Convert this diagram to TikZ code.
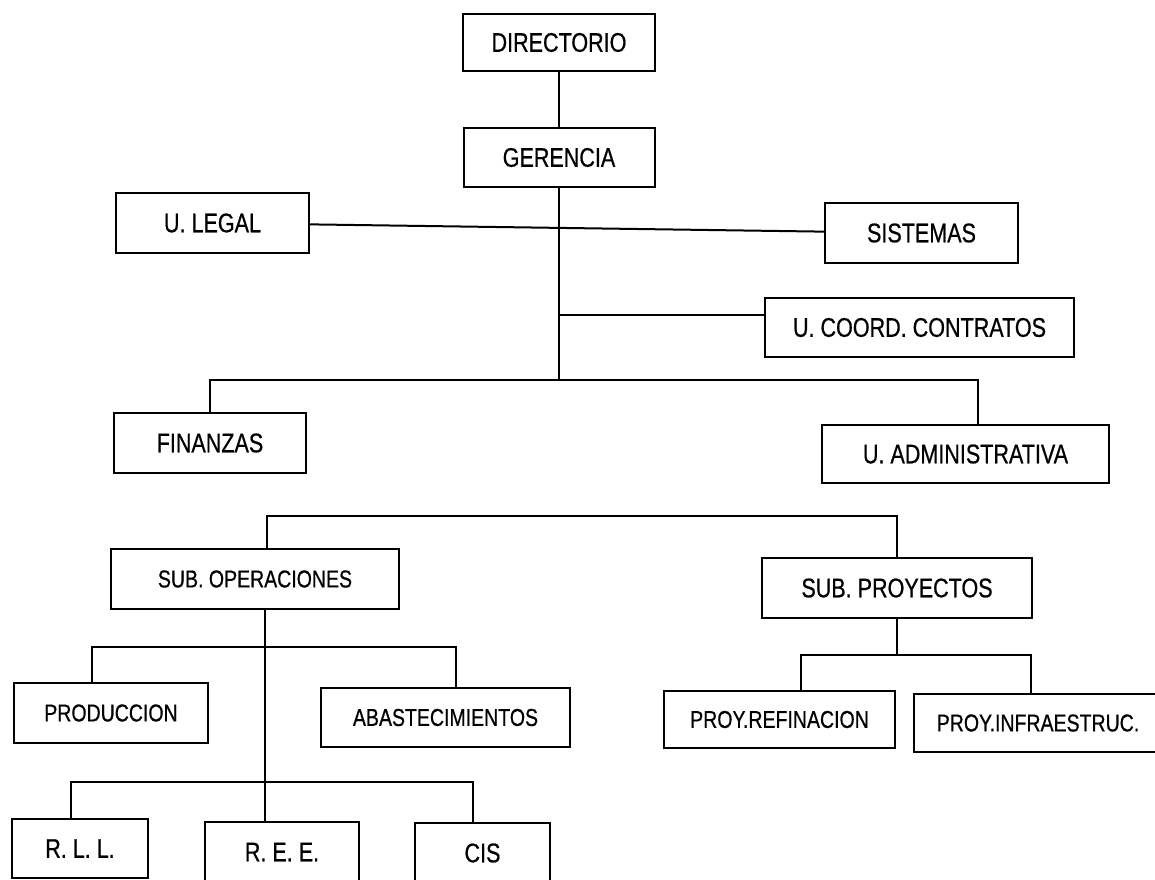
\documentclass[tikz,border=0pt]{standalone}
\usepackage{fontspec}
\setmainfont{Liberation Sans}[FakeStretch=0.8,FakeBold=0.6]
\usepackage{tikz}

\begin{document}
\begin{tikzpicture}[x=0.75pt,y=0.75pt,yscale=-1,xscale=1,
  unit/.style={draw, line width=1.5pt, inner sep=0pt, minimum height=45pt, font=\fontsize{20.2}{24}\selectfont},
  subunit/.style={unit, font=\fontsize{18.3}{22}\selectfont},
  every path/.style={line width=1.5pt}]
\useasboundingbox (0,0) rectangle (1155,879);
%Shape: Rectangle [DIRECTORIO, GERENCIA]
\node [unit, minimum width=144pt, minimum height=42.75pt] (dir) at (559,42.5) {DIRECTORIO};
\node [unit, minimum width=143.25pt, minimum height=44.25pt] (ger) at (559,157.5) {GERENCIA};
%Shape: Rectangle [staff units]
\node [unit, minimum width=144.75pt] (legal) at (212.5,223) {U. LEGAL};
\node [unit, minimum width=144.75pt] (sist) at (921.5,233) {SISTEMAS};
\node [unit, minimum width=231.75pt, minimum height=44.25pt] (coord) at (919.5,327.5) {U. COORD. CONTRATOS};
\node [unit, minimum width=144pt] (fin) at (210,443) {FINANZAS};
\node [unit, minimum width=215.25pt, minimum height=43.5pt] (adm) at (965.5,454) {U. ADMINISTRATIVA};
%Shape: Rectangle [sub gerencias]
\node [subunit, minimum width=216pt] (subop) at (255,579) {SUB. OPERACIONES};
\node [unit, minimum width=202.5pt] (subpr) at (897,588) {SUB. PROYECTOS};
\node [subunit, minimum width=145.5pt] (prod) at (111,713) {PRODUCCION};
\node [subunit, minimum width=186.75pt, minimum height=44.25pt] (abast) at (445.5,717.5) {ABASTECIMIENTOS};
\node [subunit, minimum width=173.25pt, minimum height=42.75pt] (pref) at (779.5,719.5) {PROY.REFINACION};
\node [subunit, minimum width=186pt, minimum height=43.5pt] (pinf) at (1038,723) {PROY.INFRAESTRUC.};
\node [unit, minimum width=102pt, minimum height=44.25pt] (rll) at (80,848.5) {R. L. L.};
\node [unit, minimum width=115.5pt] (ree) at (282,852) {R. E. E.};
\node [unit, minimum width=101.25pt] (cis) at (482.5,853) {CIS};
%Junctions
\coordinate (jcoord) at (559,315);
\coordinate (jfin) at (559,380);
\coordinate (jadm) at (978,380);
\coordinate (jsub) at (267,516);
\coordinate (jop) at (265,647);
\coordinate (lprod) at (92,647);
\coordinate (labast) at (456,647);
\coordinate (lrll) at (71,782);
\coordinate (lcis) at (473,782);
\coordinate (jpr) at (897,655);
\coordinate (lpref) at (801,655);
\coordinate (lpinf) at (1031,655);
%Straight Lines
\draw (dir) -- (ger);
\draw (ger.south) -- (jfin);
\draw (legal) -- (sist);
\draw (jcoord) -- (jcoord -| coord.west);
\draw (fin.north) |- (jadm) -- (jadm |- adm.north);
\draw (jsub |- subop.north) -- (jsub) -| (subpr.north);
\draw (jop |- subop.south) -- (jop |- ree.north);
\draw (lprod |- prod.north) -- (lprod) -- (labast) -- (labast |- abast.north);
\draw (lrll |- rll.north) -- (lrll) -- (lcis) -- (lcis |- cis.north);
\draw (subpr.south) -- (jpr);
\draw (lpref |- pref.north) -- (lpref) -- (lpinf) -- (lpinf |- pinf.north);
\end{tikzpicture}
\end{document}
